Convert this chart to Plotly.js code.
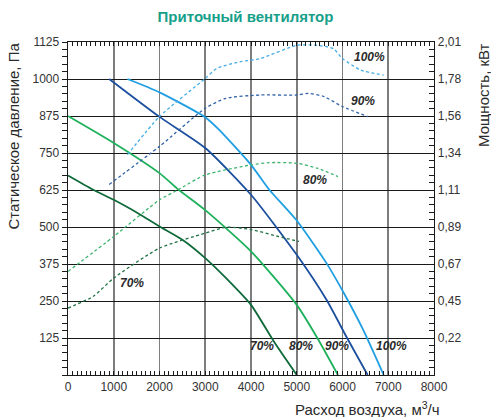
<!DOCTYPE html>
<html>
<head>
<meta charset="utf-8">
<script src="https://cdn.plot.ly/plotly-3.0.1.min.js"></script>
<style>html,body{margin:0;padding:0;background:#fff;}#chart{width:491px;height:417px;}</style>
</head>
<body>
<div id="chart"></div>
<script>
// Pressure curves (Па) vs air flow (м³/ч)
var flow100 = [1300, 2000, 3000, 3300, 4000, 4400, 5000, 5650, 6050, 6450, 6900];
var pres100 = [1000, 955, 871, 829, 710, 626, 522, 378, 271, 153, 0];
var flow90 = [900, 2000, 3000, 4000, 5000, 5650, 6100, 6550];
var pres90 = [1000, 872, 767, 609, 406, 254, 125, 0];
var flow80 = [0, 1000, 2000, 2400, 3000, 4000, 5000, 5450, 5900];
var pres80 = [875, 784, 682, 628, 557, 418, 237, 125, 0];
var flow70 = [0, 550, 1000, 1400, 2000, 2500, 3000, 3450, 4000, 4500, 5000];
var pres70 = [674, 626, 592, 558, 502, 457, 395, 328, 237, 113, 0];

// Power curves (кВт) vs air flow
var pflow100 = [1300, 2000, 3000, 3250, 3750, 4200, 5000, 5450, 5800, 6000, 6400, 6900];
var power100 = [1.33, 1.56, 1.79, 1.85, 1.89, 1.91, 1.99, 1.99, 1.97, 1.91, 1.84, 1.81];
var pflow90 = [900, 2000, 3000, 3450, 4200, 5000, 5250, 5600, 6000, 6550];
var power90 = [1.15, 1.38, 1.61, 1.67, 1.69, 1.69, 1.70, 1.68, 1.62, 1.56];
var pflow80 = [0, 1000, 2000, 2400, 3000, 4000, 4400, 5000, 5450, 5900];
var power80 = [0.625, 0.836, 1.057, 1.117, 1.208, 1.268, 1.282, 1.278, 1.248, 1.198];
var pflow70 = [0, 550, 1000, 2000, 3000, 3450, 4000, 4600, 5050];
var power70 = [0.404, 0.474, 0.585, 0.766, 0.856, 0.892, 0.878, 0.836, 0.806];

// Tick labels
var pressureTicks = [125, 250, 375, 500, 625, 750, 875, 1000, 1125];
var powerTickText = ['0,22', '0,45', '0,67', '0,89', '1,11', '1,34', '1,56', '1,78', '2,01'];
var flowTicks = [0, 1000, 2000, 3000, 4000, 5000, 6000, 7000, 8000];
var speedLabels = ['100%', '90%', '80%', '70%'];

var PMAX = 1125, WMAX = 2.01;
var powerTickVals = pressureTicks.map(function (v) { return v * WMAX / PMAX; });

var FONT = 'Liberation Sans, Arial, Helvetica, sans-serif';
var C100 = '#1f9fe2', C90 = '#1b4f9e', C80 = '#1cb15a', C70 = '#0f6a39';
var D100 = '#45aee6', D90 = '#3263a9', D80 = '#3bb56e', D70 = '#217344';

function solid(x, y, c) {
  return {x: x, y: y, type: 'scatter', mode: 'lines', line: {color: c, width: 1.8, shape: 'spline', smoothing: 0.6}, hoverinfo: 'skip', showlegend: false};
}
function dashed(x, y, c) {
  return {x: x, y: y, yaxis: 'y2', type: 'scatter', mode: 'lines', line: {color: c, width: 1.3, dash: '3px,2.5px', shape: 'spline', smoothing: 0.6}, hoverinfo: 'skip', showlegend: false};
}

var data = [
  dashed(pflow100, power100, D100),
  dashed(pflow90, power90, D90),
  dashed(pflow80, power80, D80),
  dashed(pflow70, power70, D70),
  solid(flow100, pres100, C100),
  solid(flow90, pres90, C90),
  solid(flow80, pres80, C80),
  solid(flow70, pres70, C70)
];

var lblFont = {family: FONT, size: 12, color: '#2a2a2a', weight: 'bold', style: 'italic'};
function lbl(text, x, y) {
  return {text: text, x: x, y: y, xref: 'x', yref: 'y', showarrow: false, font: lblFont, xanchor: 'center', yanchor: 'middle'};
}

var layout = {
  width: 491, height: 417,
  margin: {l: 68, r: 57, t: 42, b: 42, pad: 0},
  paper_bgcolor: '#ffffff', plot_bgcolor: '#ffffff',
  font: {family: FONT, size: 12, color: '#333333'},
  title: {text: '<b>Приточный вентилятор</b>', font: {family: FONT, size: 15, color: '#16a08a'}, x: 0.5, xanchor: 'center', y: 1 - 17 / 417, yanchor: 'middle', yref: 'container'},
  xaxis: {
    range: [0, 8000], tickvals: flowTicks, ticktext: flowTicks.map(String),
    showgrid: true, gridcolor: '#7d7d7d', gridwidth: 1.6,
    zeroline: false, showline: true, linecolor: '#1a1a1a', linewidth: 1.4, mirror: 'allticks',
    ticks: 'inside', ticklen: 4, tickcolor: '#1a1a1a', tickwidth: 1,
    minor: {dtick: 100, ticks: 'inside', ticklen: 4, tickcolor: '#1a1a1a', tickwidth: 1, showgrid: false},
    tickfont: {family: FONT, size: 12, color: '#333'}, fixedrange: true
  },
  yaxis: {
    range: [0, PMAX], tickvals: pressureTicks, ticktext: pressureTicks.map(String),
    showgrid: true, gridcolor: '#1a1a1a', gridwidth: 1,
    zeroline: false, showline: true, linecolor: '#1a1a1a', linewidth: 1.4,
    ticks: 'outside', ticklen: 5, tickcolor: '#1a1a1a', tickwidth: 1,
    minor: {dtick: 25, ticks: 'outside', ticklen: 5, tickcolor: '#1a1a1a', tickwidth: 1, showgrid: false},
    tickfont: {family: FONT, size: 12, color: '#333'}, fixedrange: true
  },
  yaxis2: {
    range: [0, WMAX], overlaying: 'y', side: 'right',
    tickvals: powerTickVals, ticktext: powerTickText,
    showgrid: false, zeroline: false, showline: true, linecolor: '#1a1a1a', linewidth: 1.4,
    ticks: 'inside', ticklen: 5, tickcolor: '#1a1a1a', tickwidth: 1,
    minor: {dtick: WMAX / 45, tick0: 0, ticks: 'inside', ticklen: 5, tickcolor: '#1a1a1a', tickwidth: 1, showgrid: false},
    tickfont: {family: FONT, size: 12, color: '#333'}, fixedrange: true
  },
  annotations: [
    {text: 'Статическое давление, Па', xref: 'paper', yref: 'paper', x: (14 - 68) / 366, y: 1.003, xanchor: 'center', yanchor: 'top', textangle: -90, showarrow: false, font: {family: FONT, size: 15, color: '#2a2a2a'}},
    {text: 'Мощность, кВт', xref: 'paper', yref: 'paper', x: (483 - 68) / 366, y: 1.003, xanchor: 'center', yanchor: 'top', textangle: -90, showarrow: false, font: {family: FONT, size: 15, color: '#2a2a2a'}},
    {text: 'Расход воздуха, м<sup>3</sup>/ч', xref: 'paper', yref: 'paper', x: (367 - 68) / 366, y: (375 - 408) / 333, xanchor: 'center', yanchor: 'middle', showarrow: false, font: {family: FONT, size: 15, color: '#2a2a2a'}},
    lbl(speedLabels[0], 6600, 1076),
    lbl(speedLabels[1], 6455, 927),
    lbl(speedLabels[2], 5400, 660),
    lbl(speedLabels[3], 1390, 311),
    lbl(speedLabels[3], 4240, 99),
    lbl(speedLabels[2], 5085, 99),
    lbl(speedLabels[1], 5886, 99),
    lbl(speedLabels[0], 7076, 99)
  ]
};

Plotly.newPlot('chart', data, layout, {staticPlot: true, displayModeBar: false});
</script>
</body>
</html>
